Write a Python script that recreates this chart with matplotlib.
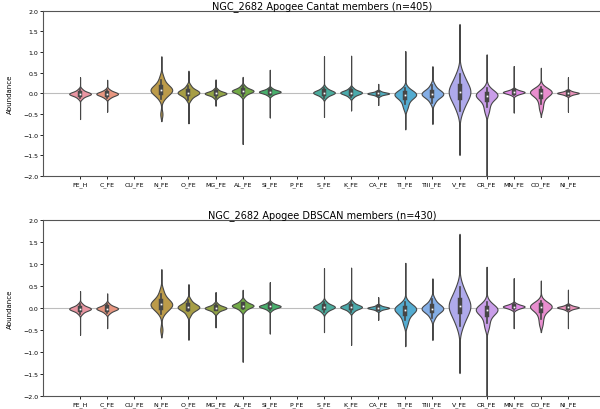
import matplotlib
matplotlib.use('Agg')
import matplotlib.pyplot as plt
import numpy as np

elements = ['FE_H', 'C_FE', 'CU_FE', 'N_FE', 'O_FE', 'MG_FE', 'AL_FE', 'SI_FE', 'P_FE',
            'S_FE', 'K_FE', 'CA_FE', 'TI_FE', 'TIII_FE', 'V_FE', 'CR_FE', 'MN_FE', 'CO_FE', 'NI_FE']

# quantile samples of the bulk of each abundance distribution ([] = not measured)
cantat_core = [
    [-0.12, -0.07, -0.045, -0.03, -0.02, -0.01, 0.0, 0.01, 0.025, 0.05, 0.10],
    [-0.11, -0.07, -0.045, -0.03, -0.02, -0.01, 0.0, 0.01, 0.025, 0.045, 0.09],
    [],
    [-0.5, -0.14, -0.07, -0.03, 0.0, 0.025, 0.045, 0.065, 0.08, 0.09, 0.10, 0.12, 0.14, 0.165,
     0.2, 0.25, 0.32, 0.42],
    [-0.15, -0.07, -0.035, -0.01, 0.005, 0.02, 0.035, 0.05, 0.075, 0.11, 0.19],
    [-0.10, -0.05, -0.03, -0.02, -0.01, 0.0, 0.01, 0.02, 0.03, 0.05, 0.10],
    [-0.06, -0.005, 0.02, 0.04, 0.05, 0.06, 0.07, 0.08, 0.10, 0.125, 0.18],
    [-0.045, -0.005, 0.01, 0.025, 0.035, 0.04, 0.045, 0.055, 0.07, 0.085, 0.125],
    [],
    [-0.10, -0.045, -0.02, -0.002, 0.01, 0.02, 0.03, 0.042, 0.06, 0.085, 0.14],
    [-0.09, -0.04, -0.015, 0.0, 0.01, 0.02, 0.03, 0.04, 0.055, 0.08, 0.13],
    [-0.06, -0.03, -0.02, -0.01, -0.005, 0.0, 0.005, 0.01, 0.02, 0.03, 0.06],
    [-0.36, -0.26, -0.18, -0.12, -0.085, -0.06, -0.04, -0.02, -0.01, 0.005, 0.025, 0.06, 0.125],
    [-0.225, -0.125, -0.08, -0.05, -0.03, -0.01, 0.01, 0.03, 0.06, 0.105, 0.205],
    [-0.42, -0.29, -0.19, -0.12, -0.06, -0.01, 0.03, 0.06, 0.09, 0.13, 0.19, 0.27, 0.38, 0.48],
    [-0.46, -0.34, -0.24, -0.16, -0.11, -0.08, -0.055, -0.04, -0.025, -0.01, 0.015, 0.05, 0.13],
    [-0.04, -0.01, 0.005, 0.015, 0.025, 0.03, 0.035, 0.045, 0.055, 0.07, 0.10],
    [-0.38, -0.25, -0.15, -0.075, -0.035, -0.005, 0.015, 0.03, 0.04, 0.055, 0.07, 0.095, 0.15],
    [-0.05, -0.025, -0.01, 0.0, 0.005, 0.01, 0.015, 0.02, 0.03, 0.045, 0.07],
]
cantat_min = [-0.62, -0.44, None, -0.67, -0.72, -0.30, -1.22, -0.58, None,
              -0.57, -0.41, -0.28, -0.87, -0.74, -1.49, -2.60, -0.46, -0.57, -0.44]
cantat_max = [0.39, 0.33, None, 0.90, 0.55, 0.34, 0.40, 0.57, None,
              0.90, 0.91, 0.23, 1.02, 0.66, 1.68, 0.94, 0.66, 0.62, 0.39]

dbscan_core = [
    [-0.13, -0.08, -0.055, -0.04, -0.03, -0.02, -0.01, 0.0, 0.015, 0.04, 0.09],
    [-0.12, -0.075, -0.05, -0.035, -0.025, -0.015, -0.005, 0.005, 0.02, 0.04, 0.09],
    [],
    [-0.5, -0.14, -0.07, -0.035, -0.005, 0.02, 0.04, 0.06, 0.075, 0.085, 0.095, 0.115, 0.135,
     0.16, 0.195, 0.245, 0.31, 0.41],
    [-0.16, -0.075, -0.04, -0.015, 0.0, 0.015, 0.03, 0.045, 0.07, 0.105, 0.185],
    [-0.11, -0.06, -0.035, -0.025, -0.015, -0.005, 0.005, 0.015, 0.025, 0.045, 0.095],
    [-0.07, -0.015, 0.01, 0.03, 0.04, 0.05, 0.06, 0.07, 0.09, 0.115, 0.17],
    [-0.05, -0.01, 0.005, 0.02, 0.03, 0.035, 0.04, 0.05, 0.065, 0.08, 0.12],
    [],
    [-0.10, -0.045, -0.02, -0.002, 0.01, 0.02, 0.03, 0.042, 0.06, 0.085, 0.14],
    [-0.09, -0.04, -0.015, 0.0, 0.01, 0.02, 0.03, 0.04, 0.055, 0.08, 0.13],
    [-0.06, -0.03, -0.02, -0.01, -0.005, 0.0, 0.005, 0.01, 0.02, 0.03, 0.06],
    [-0.38, -0.27, -0.19, -0.13, -0.09, -0.065, -0.045, -0.025, -0.01, 0.005, 0.025, 0.06, 0.125],
    [-0.23, -0.13, -0.085, -0.055, -0.035, -0.015, 0.005, 0.025, 0.055, 0.10, 0.20],
    [-0.42, -0.29, -0.19, -0.12, -0.06, -0.01, 0.03, 0.06, 0.09, 0.13, 0.19, 0.27, 0.38, 0.48],
    [-0.46, -0.34, -0.24, -0.16, -0.11, -0.08, -0.055, -0.04, -0.025, -0.01, 0.015, 0.05, 0.13],
    [-0.04, -0.01, 0.005, 0.015, 0.025, 0.03, 0.035, 0.045, 0.055, 0.07, 0.10],
    [-0.38, -0.25, -0.15, -0.075, -0.035, -0.005, 0.015, 0.03, 0.04, 0.055, 0.07, 0.095, 0.15],
    [-0.05, -0.025, -0.01, 0.0, 0.005, 0.01, 0.015, 0.02, 0.03, 0.045, 0.07],
]
dbscan_min = [-0.61, -0.46, None, -0.67, -0.72, -0.44, -1.22, -0.58, None,
              -0.55, -0.84, -0.27, -0.87, -0.73, -1.48, -2.60, -0.46, -0.55, -0.46]
dbscan_max = [0.38, 0.33, None, 0.88, 0.54, 0.35, 0.41, 0.58, None,
              0.90, 0.91, 0.24, 1.02, 0.67, 1.68, 0.93, 0.67, 0.62, 0.41]

panels = [('NGC_2682 Apogee Cantat members (n=405)', cantat_core, cantat_min, cantat_max),
          ('NGC_2682 Apogee DBSCAN members (n=430)', dbscan_core, dbscan_min, dbscan_max)]

# husl palette (l=.7), desaturated to .75
colors = ['#ea96a3', '#e79680', '#d4954d', '#bc9b4a', '#a79e46', '#92a446', '#73ab47', '#48af6c',
          '#4aad8c', '#4bac9d', '#4baaab', '#4fabbb', '#54acd1', '#84aee6', '#afaaeb', '#c99ee9',
          '#e38be7', '#e88ecf', '#e992ba']
gray = '#464646'


def kde(samples, grid):
    s = np.asarray(samples)
    iqr = np.subtract(*np.percentile(s, [75, 25]))
    bw = 1.4 * min(s.std(), iqr / 1.34) * len(s) ** -0.2
    z = (grid[:, None] - s[None, :]) / bw
    return np.exp(-0.5 * z ** 2).sum(axis=1)


fig = plt.figure(figsize=(6.0, 4.1), dpi=100)
axes = [fig.add_axes([0.0717, 0.568, 0.93, 0.4034]),
        fig.add_axes([0.0717, 0.0317, 0.93, 0.430])]

for ax, (title, core, lo, hi) in zip(axes, panels):
    ax.axhline(0, color='#bdbdbd', lw=0.8, zorder=0)
    for i, samples in enumerate(core):
        if not samples:
            continue
        y = np.linspace(lo[i], hi[i], 800)
        d = kde(samples, y)
        d = 0.4 * d / d.max()
        ax.fill_betweenx(y, i - d, i + d, facecolor=colors[i],
                         edgecolor=gray, lw=0.8, zorder=2)
        # inner box: whiskers, interquartile bar and median
        s = np.asarray(samples)
        q25, q50, q75 = np.percentile(s, [25, 50, 75])
        lim = 1.5 * (q75 - q25)
        w_lo = s[s >= q25 - lim].min()
        w_hi = s[s <= q75 + lim].max()
        ax.plot([i, i], [w_lo, w_hi], color=gray, lw=1.2, zorder=3)
        ax.plot([i, i], [q25, q75], color=gray, lw=3.2, zorder=3)
        ax.scatter([i], [q50], s=3, color='white', edgecolor=gray, lw=0.3, zorder=4)

    ax.set_xlim(-1.366, 19.22)
    ax.set_ylim(-2.0, 2.0)
    ax.set_yticks(np.arange(-2.0, 2.01, 0.5))
    ax.set_xticks(range(len(elements)))
    ax.set_xticklabels(elements)
    ax.tick_params(labelsize=4.5, length=2, width=0.6, pad=1.5)
    ax.set_ylabel('Abundance', fontsize=5, labelpad=7)
    ax.set_title(title, fontsize=7, pad=1.5)
    for sp in ax.spines.values():
        sp.set_linewidth(0.8)
        sp.set_color('#555555')

fig.savefig('out.png', dpi=100)
